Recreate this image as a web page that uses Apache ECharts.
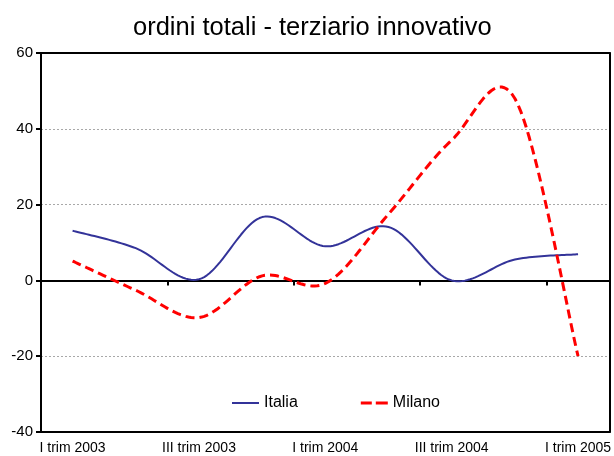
<!DOCTYPE html>
<html>
<head>
<meta charset="utf-8">
<script src="https://cdn.jsdelivr.net/npm/echarts@6/dist/echarts.min.js"></script>
<style>html,body{margin:0;padding:0;background:#fff}#c{width:614px;height:456px}</style>
</head>
<body>
<div id="c"></div>
<script>
var categories = ['I trim 2003','II trim 2003','III trim 2003','IV trim 2003','I trim 2004','II trim 2004','III trim 2004','IV trim 2004','I trim 2005'];
var italia = [13.1, 8.5, 0.3, 16.7, 9.0, 14.1, 0.0, 5.5, 6.9];
var milano = [5.1, -2.6, -9.8, 1.2, -0.8, 17.5, 37.0, 48.0, -20.0];
var yTicks = {min: -40, max: 60, interval: 20};

var font = 'Liberation Sans, Arial, sans-serif';

// Smooth curve (Catmull-Rom style, like spreadsheet smoothed lines) through the
// pixel positions that the chart's own axes give for each data point.
function smoothRenderer(values, color, width, dash) {
  return function (params, api) {
    if (params.dataIndex !== 0) return null;
    var p = values.map(function (v, i) { return api.coord([i, v]); });
    var n = p.length, pts = [];
    function P(k) { return p[Math.max(0, Math.min(n - 1, k))]; }
    for (var i = 0; i < n - 1; i++) {
      var p0 = P(i - 1), p1 = P(i), p2 = P(i + 1), p3 = P(i + 2);
      var c1 = [p1[0] + (p2[0] - p0[0]) / 6, p1[1] + (p2[1] - p0[1]) / 6];
      var c2 = [p2[0] - (p3[0] - p1[0]) / 6, p2[1] - (p3[1] - p1[1]) / 6];
      var steps = 24;
      for (var s = (i === 0 ? 0 : 1); s <= steps; s++) {
        var t = s / steps, u = 1 - t;
        pts.push([
          u*u*u*p1[0] + 3*u*u*t*c1[0] + 3*u*t*t*c2[0] + t*t*t*p2[0],
          u*u*u*p1[1] + 3*u*u*t*c1[1] + 3*u*t*t*c2[1] + t*t*t*p2[1]
        ]);
      }
    }
    return {
      type: 'polyline',
      shape: {points: pts},
      style: {stroke: color, lineWidth: width, fill: null, lineDash: dash || null, lineJoin: 'round'}
    };
  };
}

var chart = echarts.init(document.getElementById('c'), null, {renderer: 'canvas'});
chart.setOption({
  animation: false,
  backgroundColor: '#ffffff',
  title: {
    text: 'ordini totali - terziario innovativo',
    left: 128, top: 10,
    textStyle: {fontFamily: font, fontSize: 25.5, fontWeight: 'normal', color: '#000'}
  },
  legend: {
    left: 227, top: 390,
    itemWidth: 27, itemHeight: 14, itemGap: 63,
    textStyle: {fontFamily: font, fontSize: 16, color: '#000'},
    data: [
      {name: 'Italia', icon: 'path://M0,0 H27 V2 H0 Z'},
      {name: 'Milano', icon: 'path://M0,0 H11 V3 H0 Z M15,0 H27 V3 H15 Z'}
    ]
  },
  grid: {left: 41, right: 2, top: 53, bottom: 24, show: false},
  xAxis: [{
    type: 'category', data: categories, boundaryGap: true, position: 'bottom',
    axisLine: {show: true, onZero: false, lineStyle: {color: '#000', width: 2}},
    axisTick: {show: false},
    axisLabel: {interval: 1, margin: 9, fontFamily: font, fontSize: 14, color: '#000'},
    splitLine: {show: false}
  }, {
    type: 'category', data: categories, boundaryGap: true, position: 'bottom',
    axisLine: {show: true, onZero: true, lineStyle: {color: '#000', width: 2}},
    axisTick: {show: true, interval: function (idx) { return idx % 2 === 0; },
      length: 5, inside: false, lineStyle: {color: '#000', width: 2}},
    axisLabel: {show: false},
    splitLine: {show: false}
  }, {
    type: 'category', data: categories, boundaryGap: true, position: 'top',
    axisLine: {show: true, onZero: false, lineStyle: {color: '#000', width: 2}},
    axisTick: {show: false}, axisLabel: {show: false}, splitLine: {show: false}
  }],
  yAxis: [{
    type: 'value', min: yTicks.min, max: yTicks.max, interval: yTicks.interval,
    axisLine: {show: true, onZero: false, lineStyle: {color: '#000', width: 2}},
    axisTick: {show: true, length: 5, lineStyle: {color: '#000', width: 2}},
    axisLabel: {margin: 8, fontFamily: font, fontSize: 15, color: '#000'},
    splitLine: {show: true, lineStyle: {color: '#a8a8a8', width: 1, type: [2, 2]}}
  }, {
    type: 'value', min: yTicks.min, max: yTicks.max, interval: yTicks.interval, position: 'right',
    axisLine: {show: true, onZero: false, lineStyle: {color: '#000', width: 2}},
    axisTick: {show: false}, axisLabel: {show: false}, splitLine: {show: false}
  }],
  series: [{
    name: 'Italia', type: 'custom', xAxisIndex: 0, yAxisIndex: 0, z: 3,
    data: italia.map(function (v, i) { return [i, v]; }),
    encode: {x: 0, y: 1},
    itemStyle: {color: '#333399'},
    renderItem: smoothRenderer(italia, '#333399', 2)
  }, {
    name: 'Milano', type: 'custom', xAxisIndex: 0, yAxisIndex: 0, z: 4,
    data: milano.map(function (v, i) { return [i, v]; }),
    encode: {x: 0, y: 1},
    itemStyle: {color: '#ff0000'},
    renderItem: smoothRenderer(milano, '#ff0000', 3, [9, 5])
  }]
});
</script>
</body>
</html>
